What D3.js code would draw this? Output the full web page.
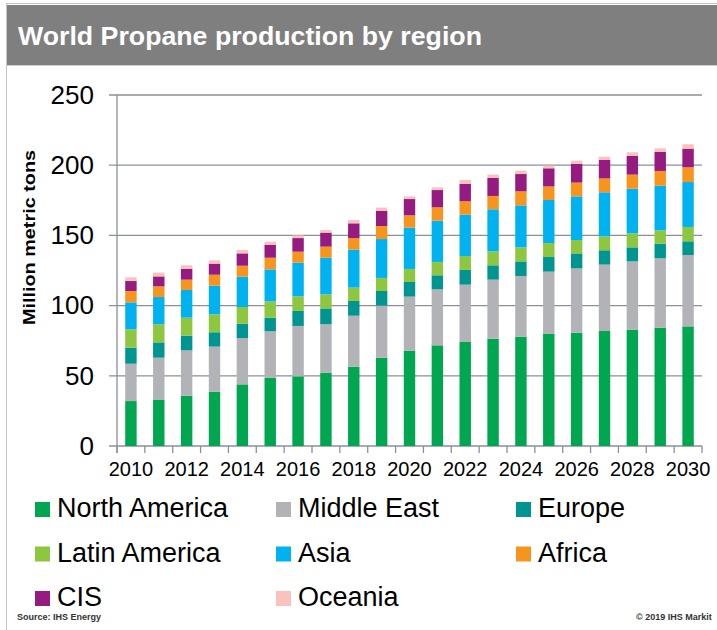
<!DOCTYPE html>
<html>
<head>
<meta charset="utf-8">
<script src="https://cdn.jsdelivr.net/npm/d3@7"></script>
<style>
  body { margin: 0; background: #ffffff; }
  svg { display: block; font-family: "Liberation Sans", Arial, sans-serif; }
</style>
</head>
<body>
<div id="chart"></div>
<script>
//years on the x axis
const years = d3.range(2010, 2031);
//only every other year gets a label
const yearLabels = [2010, 2012, 2014, 2016, 2018, 2020, 2022, 2024, 2026, 2028, 2030];
const yTicks = [0, 50, 100, 150, 200, 250];

//million metric tons
const northAmerica = [32.0, 32.8, 35.8, 38.7, 43.9, 48.7, 49.6, 52.2, 56.5, 62.9, 67.9, 71.7, 74.1, 76.4, 77.9, 79.8, 80.7, 81.9, 82.9, 84.3, 85.2];
const middleEast = [26.6, 30.1, 32.3, 32.1, 33.0, 33.0, 35.9, 34.5, 36.3, 37.1, 38.5, 39.9, 40.8, 42.1, 43.2, 44.4, 45.8, 47.3, 48.6, 49.4, 50.8];
const europe = [11.4, 10.9, 10.5, 10.2, 10.2, 9.7, 10.7, 11.3, 10.5, 10.4, 10.4, 10.0, 10.5, 10.2, 10.4, 10.4, 10.7, 10.2, 10.0, 10.4, 9.8];
const latinAmerica = [13.1, 12.9, 12.8, 12.8, 11.9, 11.6, 10.4, 10.0, 9.5, 9.3, 9.3, 9.5, 9.9, 9.9, 10.0, 10.0, 9.5, 9.9, 10.0, 9.5, 10.2];
const asia = [19.2, 19.4, 19.7, 20.4, 21.6, 22.8, 24.0, 26.1, 27.0, 27.7, 29.4, 29.4, 29.5, 30.0, 29.9, 30.6, 31.1, 31.4, 31.8, 31.8, 32.0];
const africa = [8.1, 7.6, 7.4, 7.8, 7.8, 8.3, 7.8, 7.9, 8.3, 9.3, 8.8, 9.5, 9.5, 9.5, 10.0, 9.7, 9.8, 9.9, 10.0, 10.5, 10.5];
const cis = [7.1, 7.1, 7.8, 7.9, 8.8, 9.3, 9.7, 10.0, 10.5, 10.7, 11.6, 12.3, 12.5, 12.8, 12.3, 12.9, 13.3, 13.1, 13.3, 13.5, 13.3];
const oceania = [2.6, 2.7, 2.4, 2.3, 2.4, 2.1, 1.9, 1.8, 2.4, 2.4, 1.9, 1.9, 2.7, 2.4, 2.4, 1.9, 2.3, 2.3, 2.6, 2.6, 3.1];

const regions = ["North America", "Middle East", "Europe", "Latin America", "Asia", "Africa", "CIS", "Oceania"];
const regionValues = [northAmerica, middleEast, europe, latinAmerica, asia, africa, cis, oceania];
const regionColors = ["#00a650", "#b1b3b6", "#009591", "#8dc63f", "#00b3f0", "#f7941d", "#951b81", "#f9c2bb"];

const width = 717,
  height = 630;
const plot = { left: 117, right: 702, top: 95, bottom: 446 };
const lineColor = "#8a9099";

//one row per year so d3.stack can use it
const table = years.map((year, i) => {
  const row = { year: year };
  regions.forEach((r, j) => (row[r] = regionValues[j][i]));
  return row;
});

const svg = d3
  .select("#chart")
  .append("svg")
  .attr("width", width)
  .attr("height", height);

//outer frame and grey header
svg
  .append("rect")
  .attr("x", 6.5)
  .attr("y", 3.5)
  .attr("width", width)
  .attr("height", height)
  .attr("fill", "#ffffff")
  .attr("stroke", "#c4c4c4");

svg
  .append("rect")
  .attr("x", 7)
  .attr("y", 5)
  .attr("width", width - 7)
  .attr("height", 60)
  .attr("fill", "#7f7f7f");

svg
  .append("line")
  .attr("x1", 7)
  .attr("x2", width)
  .attr("y1", 65.5)
  .attr("y2", 65.5)
  .attr("stroke", "#d0d0d0");

svg
  .append("text")
  .attr("x", 18)
  .attr("y", 45)
  .attr("fill", "#ffffff")
  .attr("textLength", 464)
  .attr("lengthAdjust", "spacingAndGlyphs")
  .style("font-size", "26.5px")
  .style("font-weight", "bold")
  .text("World Propane production by region");

//scales
const x = d3
  .scaleBand()
  .domain(years)
  .range([plot.left, plot.right])
  .paddingInner(0.59)
  .paddingOuter(0.295);

const y = d3.scaleLinear().domain([0, 250]).range([plot.bottom, plot.top]);

//horizontal grid lines (they poke out a little left of the axis)
svg
  .append("g")
  .selectAll("line")
  .data(yTicks)
  .enter()
  .append("line")
  .attr("x1", plot.left - 8)
  .attr("x2", plot.right)
  .attr("y1", (d) => y(d))
  .attr("y2", (d) => y(d))
  .attr("stroke", lineColor)
  .attr("stroke-width", 1.3);

//stacked bars
const series = d3.stack().keys(regions)(table);

svg
  .append("g")
  .selectAll("g")
  .data(series)
  .enter()
  .append("g")
  .attr("fill", (d, i) => regionColors[i])
  .selectAll("rect")
  .data((d) => d)
  .enter()
  .append("rect")
  .attr("x", (d) => x(d.data.year))
  .attr("y", (d) => y(d[1]))
  .attr("width", x.bandwidth())
  .attr("height", (d) => y(d[0]) - y(d[1]));

//y axis labels
const yAxis = svg
  .append("g")
  .attr("transform", "translate(" + plot.left + ",0)")
  .call(d3.axisLeft(y).tickValues(yTicks).tickSize(0).tickPadding(23));
yAxis.select(".domain").remove();
yAxis
  .selectAll("text")
  .style("font-size", "26px")
  .style("font-family", "Liberation Sans, Arial, sans-serif")
  .attr("fill", "#000000");

//vertical axis line
svg
  .append("line")
  .attr("x1", plot.left)
  .attr("x2", plot.left)
  .attr("y1", plot.top)
  .attr("y2", plot.bottom + 7)
  .attr("stroke", lineColor)
  .attr("stroke-width", 1.3);

//x axis labels
const xAxis = svg
  .append("g")
  .attr("transform", "translate(0," + plot.bottom + ")")
  .call(d3.axisBottom(x).tickValues(yearLabels).tickSize(0).tickPadding(16));
xAxis.select(".domain").remove();
xAxis
  .selectAll("text")
  .style("font-size", "20px")
  .style("font-family", "Liberation Sans, Arial, sans-serif")
  .attr("fill", "#000000");

//tick marks sit between the bars
const tickPos = d3.range(years.length + 1).map((i) => plot.left + i * x.step());
svg
  .append("g")
  .selectAll("line")
  .data(tickPos)
  .enter()
  .append("line")
  .attr("x1", (d) => d)
  .attr("x2", (d) => d)
  .attr("y1", plot.bottom)
  .attr("y2", plot.bottom + 7)
  .attr("stroke", lineColor)
  .attr("stroke-width", 1.3);

//axis title
svg
  .append("text")
  .attr("transform", "translate(34.5,237.5) rotate(-90)")
  .attr("text-anchor", "middle")
  .attr("textLength", 175)
  .attr("lengthAdjust", "spacingAndGlyphs")
  .style("font-size", "16.5px")
  .style("font-weight", "bold")
  .text("Million metric tons");

/////// legend //////////
const legendCols = [35, 276, 516];
const legendRows = [517, 561.5, 606];

const legend = svg
  .append("g")
  .selectAll("g")
  .data(regions)
  .enter()
  .append("g")
  .attr("transform", (d, i) => "translate(" + legendCols[i % 3] + "," + legendRows[Math.floor(i / 3)] + ")");

legend
  .append("rect")
  .attr("x", 0)
  .attr("y", -15)
  .attr("width", 15)
  .attr("height", 15)
  .attr("fill", (d, i) => regionColors[i]);

legend
  .append("text")
  .attr("x", 22)
  .attr("y", 0)
  .style("font-size", "27px")
  .text((d) => d);

//footer notes
svg
  .append("text")
  .attr("x", 17)
  .attr("y", 620)
  .style("font-size", "9px")
  .style("font-weight", "bold")
  .attr("fill", "#333333")
  .text("Source: IHS Energy");

svg
  .append("text")
  .attr("x", 636)
  .attr("y", 620)
  .style("font-size", "9px")
  .style("font-weight", "bold")
  .attr("fill", "#333333")
  .text("© 2019 IHS Markit");
</script>
</body>
</html>
